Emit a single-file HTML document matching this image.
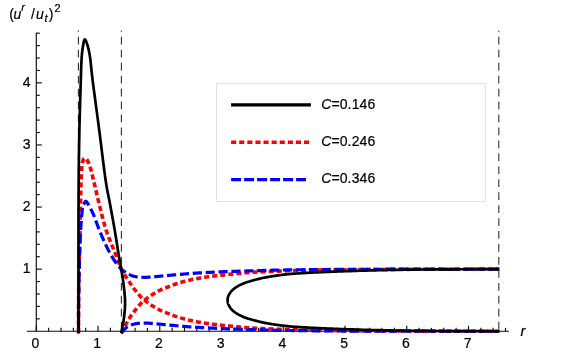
<!DOCTYPE html>
<html><head><meta charset="utf-8"><style>
html,body{margin:0;padding:0;background:#fff;}
body{width:581px;height:364px;overflow:hidden;font-family:"Liberation Sans",sans-serif;}
svg{display:block;will-change:transform;font-family:"Liberation Sans",sans-serif;}
</style></head><body>
<svg width="581" height="364" viewBox="0 0 581 364">
<rect width="581" height="364" fill="#fff"/>
<!-- vertical dashed guide lines -->
<g stroke="#303030" stroke-width="1.1" stroke-dasharray="7.75 5.2" stroke-dashoffset="6.6" fill="none">
<line x1="78.4" y1="30.5" x2="78.4" y2="331"/>
<line x1="121.4" y1="30.5" x2="121.4" y2="331"/>
<line x1="498.8" y1="30.5" x2="498.8" y2="331"/>
</g>
<!-- axes -->
<g stroke="#0c0c0c" stroke-width="1.15" fill="none">
<line x1="26.9" y1="331.25" x2="508.9" y2="331.25"/>
<line x1="36.30" y1="331.25" x2="36.30" y2="32.7"/>
<line x1="36.30" y1="331.25" x2="36.30" y2="325.85"/>
<line x1="48.65" y1="331.25" x2="48.65" y2="327.85"/>
<line x1="61.00" y1="331.25" x2="61.00" y2="327.85"/>
<line x1="73.34" y1="331.25" x2="73.34" y2="327.85"/>
<line x1="85.69" y1="331.25" x2="85.69" y2="327.85"/>
<line x1="98.04" y1="331.25" x2="98.04" y2="325.85"/>
<line x1="110.39" y1="331.25" x2="110.39" y2="327.85"/>
<line x1="122.74" y1="331.25" x2="122.74" y2="327.85"/>
<line x1="135.08" y1="331.25" x2="135.08" y2="327.85"/>
<line x1="147.43" y1="331.25" x2="147.43" y2="327.85"/>
<line x1="159.78" y1="331.25" x2="159.78" y2="325.85"/>
<line x1="172.13" y1="331.25" x2="172.13" y2="327.85"/>
<line x1="184.48" y1="331.25" x2="184.48" y2="327.85"/>
<line x1="196.82" y1="331.25" x2="196.82" y2="327.85"/>
<line x1="209.17" y1="331.25" x2="209.17" y2="327.85"/>
<line x1="221.52" y1="331.25" x2="221.52" y2="325.85"/>
<line x1="233.87" y1="331.25" x2="233.87" y2="327.85"/>
<line x1="246.22" y1="331.25" x2="246.22" y2="327.85"/>
<line x1="258.56" y1="331.25" x2="258.56" y2="327.85"/>
<line x1="270.91" y1="331.25" x2="270.91" y2="327.85"/>
<line x1="283.26" y1="331.25" x2="283.26" y2="325.85"/>
<line x1="295.61" y1="331.25" x2="295.61" y2="327.85"/>
<line x1="307.96" y1="331.25" x2="307.96" y2="327.85"/>
<line x1="320.30" y1="331.25" x2="320.30" y2="327.85"/>
<line x1="332.65" y1="331.25" x2="332.65" y2="327.85"/>
<line x1="345.00" y1="331.25" x2="345.00" y2="325.85"/>
<line x1="357.35" y1="331.25" x2="357.35" y2="327.85"/>
<line x1="369.70" y1="331.25" x2="369.70" y2="327.85"/>
<line x1="382.04" y1="331.25" x2="382.04" y2="327.85"/>
<line x1="394.39" y1="331.25" x2="394.39" y2="327.85"/>
<line x1="406.74" y1="331.25" x2="406.74" y2="325.85"/>
<line x1="419.09" y1="331.25" x2="419.09" y2="327.85"/>
<line x1="431.44" y1="331.25" x2="431.44" y2="327.85"/>
<line x1="443.78" y1="331.25" x2="443.78" y2="327.85"/>
<line x1="456.13" y1="331.25" x2="456.13" y2="327.85"/>
<line x1="468.48" y1="331.25" x2="468.48" y2="325.85"/>
<line x1="480.83" y1="331.25" x2="480.83" y2="327.85"/>
<line x1="493.18" y1="331.25" x2="493.18" y2="327.85"/>
<line x1="505.52" y1="331.25" x2="505.52" y2="327.85"/>
<line x1="36.30" y1="318.83" x2="39.80" y2="318.83"/>
<line x1="36.30" y1="306.41" x2="39.80" y2="306.41"/>
<line x1="36.30" y1="293.99" x2="39.80" y2="293.99"/>
<line x1="36.30" y1="281.57" x2="39.80" y2="281.57"/>
<line x1="36.30" y1="269.15" x2="41.80" y2="269.15"/>
<line x1="36.30" y1="256.73" x2="39.80" y2="256.73"/>
<line x1="36.30" y1="244.31" x2="39.80" y2="244.31"/>
<line x1="36.30" y1="231.89" x2="39.80" y2="231.89"/>
<line x1="36.30" y1="219.47" x2="39.80" y2="219.47"/>
<line x1="36.30" y1="207.05" x2="41.80" y2="207.05"/>
<line x1="36.30" y1="194.63" x2="39.80" y2="194.63"/>
<line x1="36.30" y1="182.21" x2="39.80" y2="182.21"/>
<line x1="36.30" y1="169.79" x2="39.80" y2="169.79"/>
<line x1="36.30" y1="157.37" x2="39.80" y2="157.37"/>
<line x1="36.30" y1="144.95" x2="41.80" y2="144.95"/>
<line x1="36.30" y1="132.53" x2="39.80" y2="132.53"/>
<line x1="36.30" y1="120.11" x2="39.80" y2="120.11"/>
<line x1="36.30" y1="107.69" x2="39.80" y2="107.69"/>
<line x1="36.30" y1="95.27" x2="39.80" y2="95.27"/>
<line x1="36.30" y1="82.85" x2="41.80" y2="82.85"/>
<line x1="36.30" y1="70.43" x2="39.80" y2="70.43"/>
<line x1="36.30" y1="58.01" x2="39.80" y2="58.01"/>
<line x1="36.30" y1="45.59" x2="39.80" y2="45.59"/>
<line x1="36.30" y1="33.17" x2="39.80" y2="33.17"/>
</g>
<g font-size="14" fill="#000" stroke="#000" stroke-width="0.2"><text x="35.40" y="348.4" text-anchor="middle">0</text><text x="97.14" y="348.4" text-anchor="middle">1</text><text x="158.88" y="348.4" text-anchor="middle">2</text><text x="220.62" y="348.4" text-anchor="middle">3</text><text x="282.36" y="348.4" text-anchor="middle">4</text><text x="344.10" y="348.4" text-anchor="middle">5</text><text x="405.84" y="348.4" text-anchor="middle">6</text><text x="467.58" y="348.4" text-anchor="middle">7</text><text x="30.6" y="272.95" text-anchor="end">1</text><text x="30.6" y="210.85" text-anchor="end">2</text><text x="30.6" y="148.75" text-anchor="end">3</text><text x="30.6" y="86.65" text-anchor="end">4</text></g>
<!-- curves -->
<g fill="none" stroke-width="3.2" stroke-linejoin="round">
<g stroke="#ff0000" stroke-width="3.6" stroke-dasharray="5.1 3.0"><path d="M78.50 333.20 L78.51 330.45 L78.51 327.75 L78.51 325.06 L78.51 322.39 L78.52 319.71 L78.52 317.03 L78.52 314.32 L78.53 311.57 L78.54 308.78 L78.55 305.93 L78.57 303.00 L78.60 300.00 L78.63 296.90 L78.67 293.73 L78.70 290.48 L78.74 287.17 L78.79 283.82 L78.84 280.43 L78.89 277.01 L78.94 273.59 L79.00 270.16 L79.07 266.75 L79.13 263.35 L79.20 260.00 L79.28 256.67 L79.36 253.33 L79.45 250.00 L79.54 246.67 L79.64 243.33 L79.74 240.00 L79.84 236.67 L79.94 233.33 L80.03 230.00 L80.13 226.67 L80.22 223.33 L80.30 220.00 L80.38 216.58 L80.45 213.03 L80.52 209.39 L80.59 205.70 L80.65 202.02 L80.71 198.38 L80.77 194.82 L80.84 191.41 L80.90 188.17 L80.96 185.16 L81.03 182.42 L81.10 180.00 L81.17 177.90 L81.24 176.07 L81.31 174.48 L81.38 173.11 L81.45 171.92 L81.52 170.88 L81.60 169.95 L81.67 169.11 L81.75 168.33 L81.83 167.57 L81.91 166.80 L82.00 166.00 L82.09 165.21 L82.18 164.49 L82.27 163.84 L82.37 163.25 L82.46 162.72 L82.56 162.24 L82.66 161.80 L82.77 161.39 L82.87 161.02 L82.98 160.66 L83.09 160.33 L83.20 160.00 L83.31 159.69 L83.43 159.42 L83.54 159.18 L83.66 158.98 L83.78 158.80 L83.91 158.65 L84.03 158.52 L84.16 158.42 L84.29 158.34 L84.42 158.28 L84.56 158.23 L84.70 158.20 L84.84 158.19 L84.99 158.20 L85.14 158.23 L85.30 158.29 L85.46 158.37 L85.62 158.46 L85.78 158.58 L85.94 158.71 L86.11 158.86 L86.27 159.03 L86.44 159.21 L86.60 159.40 L86.76 159.61 L86.92 159.82 L87.08 160.05 L87.24 160.30 L87.41 160.56 L87.57 160.84 L87.73 161.14 L87.90 161.46 L88.07 161.80 L88.24 162.18 L88.42 162.57 L88.60 163.00 L88.79 163.45 L88.97 163.92 L89.16 164.42 L89.36 164.93 L89.56 165.47 L89.76 166.04 L89.96 166.63 L90.16 167.24 L90.37 167.89 L90.58 168.56 L90.79 169.27 L91.00 170.00 L91.20 170.73 L91.39 171.42 L91.57 172.11 L91.74 172.80 L91.92 173.51 L92.11 174.28 L92.30 175.12 L92.52 176.04 L92.76 177.07 L93.04 178.22 L93.35 179.53 L93.70 181.00 L94.10 182.68 L94.54 184.57 L95.03 186.63 L95.54 188.83 L96.08 191.15 L96.64 193.53 L97.21 195.96 L97.78 198.39 L98.35 200.79 L98.92 203.14 L99.47 205.38 L100.00 207.50 L100.51 209.53 L101.02 211.53 L101.52 213.51 L102.02 215.47 L102.52 217.39 L103.01 219.29 L103.51 221.15 L104.01 222.99 L104.52 224.79 L105.04 226.56 L105.56 228.30 L106.10 230.00 L106.65 231.67 L107.22 233.31 L107.81 234.91 L108.40 236.49 L109.00 238.03 L109.61 239.54 L110.21 241.01 L110.80 242.46 L111.38 243.87 L111.94 245.25 L112.48 246.59 L113.00 247.90 L113.50 249.18 L113.99 250.42 L114.47 251.63 L114.94 252.81 L115.39 253.95 L115.84 255.06 L116.27 256.14 L116.69 257.18 L117.09 258.19 L117.47 259.16 L117.85 260.10 L118.20 261.00 L118.52 261.84 L118.79 262.60 L119.02 263.29 L119.23 263.94 L119.42 264.55 L119.61 265.14 L119.80 265.73 L120.02 266.33 L120.26 266.95 L120.55 267.62 L120.89 268.35 L121.30 269.15 L121.78 270.04 L122.33 271.00 L122.94 272.03 L123.60 273.10 L124.28 274.20 L124.98 275.31 L125.69 276.41 L126.38 277.48 L127.05 278.52 L127.69 279.49 L128.28 280.39 L128.80 281.20 L129.27 281.92 L129.71 282.58 L130.12 283.18 L130.50 283.74 L130.86 284.26 L131.20 284.74 L131.52 285.19 L131.83 285.62 L132.13 286.03 L132.43 286.43 L132.71 286.82 L133.00 287.22 L133.27 287.60 L133.51 287.94 L133.73 288.24 L133.93 288.53 L134.12 288.79 L134.31 289.05 L134.50 289.30 L134.70 289.56 L134.91 289.84 L135.15 290.13 L135.41 290.46 L135.70 290.82 L136.03 291.23 L136.39 291.67 L136.77 292.14 L137.17 292.63 L137.59 293.13 L138.01 293.64 L138.44 294.15 L138.87 294.66 L139.30 295.15 L139.72 295.62 L140.12 296.06 L140.50 296.47 L140.86 296.85 L141.20 297.20 L141.53 297.52 L141.84 297.83 L142.15 298.12 L142.46 298.40 L142.78 298.68 L143.10 298.96 L143.44 299.25 L143.80 299.55 L144.19 299.87 L144.60 300.20 L145.04 300.55 L145.49 300.91 L145.95 301.28 L146.43 301.65 L146.92 302.03 L147.43 302.42 L147.95 302.81 L148.49 303.20 L149.04 303.60 L149.61 303.99 L150.20 304.39 L150.80 304.80 L151.43 305.21 L152.11 305.63 L152.81 306.07 L153.53 306.52 L154.27 306.97 L155.03 307.42 L155.78 307.87 L156.52 308.30 L157.25 308.71 L157.97 309.11 L158.65 309.48 L159.30 309.83 L159.91 310.14 L160.49 310.42 L161.04 310.67 L161.58 310.91 L162.10 311.13 L162.61 311.34 L163.13 311.54 L163.64 311.74 L164.18 311.94 L164.72 312.15 L165.30 312.38 L165.90 312.62 L166.53 312.87 L167.17 313.14 L167.82 313.40 L168.49 313.67 L169.17 313.95 L169.86 314.22 L170.56 314.50 L171.27 314.78 L171.99 315.05 L172.72 315.32 L173.45 315.59 L174.20 315.85 L174.96 316.11 L175.72 316.36 L176.50 316.62 L177.28 316.87 L178.08 317.13 L178.88 317.38 L179.70 317.63 L180.52 317.87 L181.35 318.12 L182.19 318.36 L183.04 318.60 L183.90 318.83 L184.77 319.06 L185.64 319.29 L186.53 319.52 L187.42 319.75 L188.33 319.97 L189.24 320.19 L190.16 320.41 L191.09 320.62 L192.03 320.83 L192.98 321.04 L193.93 321.24 L194.90 321.44 L195.88 321.63 L196.88 321.82 L197.90 322.00 L198.93 322.19 L199.97 322.36 L201.02 322.54 L202.07 322.71 L203.11 322.87 L204.15 323.03 L205.18 323.19 L206.20 323.34 L207.20 323.49 L208.15 323.63 L209.03 323.75 L209.86 323.87 L210.67 323.98 L211.47 324.08 L212.29 324.19 L213.14 324.29 L214.05 324.40 L215.04 324.51 L216.13 324.63 L217.35 324.77 L218.70 324.92 L220.23 325.08 L221.92 325.26 L223.76 325.45 L225.70 325.66 L227.72 325.86 L229.79 326.08 L231.89 326.29 L233.97 326.49 L236.01 326.69 L237.98 326.88 L239.85 327.06 L241.60 327.21 L243.19 327.35 L244.63 327.48 L245.97 327.60 L247.24 327.71 L248.46 327.81 L249.68 327.90 L250.93 327.99 L252.24 328.08 L253.65 328.17 L255.19 328.26 L256.89 328.36 L258.80 328.46 L260.88 328.56 L263.09 328.67 L265.41 328.78 L267.84 328.89 L270.36 329.00 L272.98 329.10 L275.67 329.21 L278.43 329.32 L281.25 329.42 L284.13 329.52 L287.05 329.61 L290.00 329.70 L292.99 329.78 L296.04 329.86 L299.15 329.94 L302.31 330.01 L305.54 330.08 L308.82 330.15 L312.18 330.22 L315.60 330.28 L319.09 330.34 L322.65 330.40 L326.29 330.45 L330.00 330.50 L333.82 330.55 L337.75 330.60 L341.80 330.65 L345.93 330.69 L350.12 330.72 L354.38 330.76 L358.66 330.79 L362.96 330.83 L367.27 330.86 L371.55 330.89 L375.80 330.91 L380.00 330.94 L384.11 330.96 L388.11 330.99 L392.05 331.00 L395.95 331.02 L399.86 331.04 L403.79 331.05 L407.80 331.07 L411.90 331.08 L416.14 331.09 L420.55 331.10 L425.16 331.11 L430.00 331.13 L435.10 331.14 L440.43 331.15 L445.97 331.16 L451.67 331.17 L457.51 331.18 L463.44 331.19 L469.45 331.20 L475.49 331.21 L481.52 331.22 L487.53 331.23 L493.46 331.24 L499.30 331.25"/><path d="M121.20 333.20 L121.84 332.01 L122.51 330.77 L123.18 329.51 L123.86 328.24 L124.54 326.96 L125.21 325.70 L125.87 324.47 L126.52 323.28 L127.14 322.14 L127.73 321.07 L128.29 320.09 L128.80 319.20 L129.27 318.41 L129.71 317.71 L130.12 317.08 L130.51 316.51 L130.87 316.00 L131.21 315.54 L131.53 315.11 L131.84 314.71 L132.14 314.33 L132.43 313.95 L132.71 313.57 L133.00 313.18 L133.27 312.80 L133.51 312.46 L133.73 312.16 L133.93 311.87 L134.12 311.61 L134.31 311.35 L134.50 311.10 L134.70 310.84 L134.91 310.56 L135.15 310.27 L135.41 309.94 L135.70 309.58 L136.03 309.17 L136.39 308.73 L136.77 308.26 L137.17 307.77 L137.59 307.27 L138.01 306.76 L138.44 306.25 L138.87 305.74 L139.30 305.25 L139.72 304.78 L140.12 304.34 L140.50 303.93 L140.86 303.55 L141.20 303.20 L141.53 302.88 L141.84 302.57 L142.15 302.28 L142.46 302.00 L142.78 301.72 L143.10 301.44 L143.44 301.15 L143.80 300.85 L144.19 300.53 L144.60 300.20 L145.04 299.85 L145.49 299.49 L145.95 299.12 L146.43 298.75 L146.92 298.37 L147.43 297.98 L147.95 297.59 L148.49 297.20 L149.04 296.80 L149.61 296.41 L150.20 296.01 L150.80 295.60 L151.43 295.19 L152.11 294.77 L152.81 294.33 L153.53 293.88 L154.27 293.43 L155.03 292.98 L155.78 292.53 L156.52 292.10 L157.25 291.69 L157.97 291.29 L158.65 290.92 L159.30 290.57 L159.91 290.26 L160.49 289.98 L161.04 289.73 L161.58 289.49 L162.10 289.27 L162.61 289.06 L163.13 288.86 L163.64 288.66 L164.18 288.46 L164.72 288.25 L165.30 288.02 L165.90 287.78 L166.53 287.53 L167.17 287.26 L167.82 287.00 L168.49 286.73 L169.17 286.45 L169.86 286.18 L170.56 285.90 L171.27 285.62 L171.99 285.35 L172.72 285.08 L173.45 284.81 L174.20 284.55 L174.96 284.29 L175.72 284.04 L176.50 283.78 L177.28 283.52 L178.08 283.27 L178.88 283.02 L179.70 282.77 L180.52 282.53 L181.35 282.28 L182.19 282.04 L183.04 281.80 L183.90 281.57 L184.77 281.34 L185.64 281.11 L186.53 280.88 L187.42 280.65 L188.33 280.43 L189.24 280.21 L190.16 279.99 L191.09 279.78 L192.03 279.57 L192.98 279.36 L193.93 279.16 L194.90 278.96 L195.88 278.77 L196.88 278.58 L197.90 278.40 L198.93 278.21 L199.97 278.04 L201.02 277.86 L202.07 277.69 L203.11 277.53 L204.15 277.37 L205.18 277.21 L206.20 277.06 L207.20 276.91 L208.15 276.77 L209.03 276.65 L209.86 276.53 L210.67 276.42 L211.47 276.32 L212.29 276.21 L213.14 276.11 L214.05 276.00 L215.04 275.89 L216.13 275.77 L217.35 275.63 L218.70 275.48 L220.23 275.32 L221.92 275.14 L223.76 274.95 L225.70 274.74 L227.72 274.54 L229.79 274.32 L231.89 274.11 L233.97 273.91 L236.01 273.71 L237.98 273.52 L239.85 273.34 L241.60 273.19 L243.19 273.05 L244.63 272.92 L245.97 272.80 L247.24 272.69 L248.46 272.59 L249.68 272.50 L250.93 272.41 L252.24 272.32 L253.65 272.23 L255.19 272.14 L256.89 272.04 L258.80 271.94 L260.88 271.84 L263.09 271.73 L265.41 271.62 L267.84 271.51 L270.36 271.40 L272.98 271.30 L275.67 271.19 L278.43 271.08 L281.25 270.98 L284.13 270.88 L287.05 270.79 L290.00 270.70 L292.99 270.62 L296.04 270.54 L299.15 270.46 L302.31 270.39 L305.54 270.32 L308.82 270.25 L312.18 270.18 L315.60 270.12 L319.09 270.06 L322.65 270.00 L326.29 269.95 L330.00 269.90 L333.82 269.85 L337.75 269.80 L341.80 269.75 L345.93 269.71 L350.12 269.68 L354.38 269.64 L358.66 269.61 L362.96 269.57 L367.27 269.54 L371.55 269.51 L375.80 269.49 L380.00 269.46 L384.11 269.44 L388.11 269.41 L392.05 269.40 L395.95 269.38 L399.86 269.36 L403.79 269.35 L407.80 269.33 L411.90 269.32 L416.14 269.31 L420.55 269.30 L425.16 269.29 L430.00 269.27 L435.10 269.26 L440.43 269.25 L445.97 269.24 L451.67 269.23 L457.51 269.22 L463.44 269.21 L469.45 269.20 L475.49 269.19 L481.52 269.18 L487.53 269.17 L493.46 269.16 L499.30 269.15"/></g>
<g stroke="#0000ff" stroke-width="3.2" stroke-dasharray="9.2 3.7"><path d="M78.50 333.20 L78.51 330.45 L78.53 327.75 L78.54 325.06 L78.54 322.39 L78.55 319.71 L78.56 317.03 L78.57 314.32 L78.59 311.57 L78.61 308.78 L78.63 305.93 L78.66 303.00 L78.70 300.00 L78.74 296.87 L78.79 293.61 L78.85 290.24 L78.91 286.80 L78.97 283.31 L79.04 279.80 L79.11 276.30 L79.18 272.84 L79.26 269.46 L79.34 266.17 L79.42 263.00 L79.50 260.00 L79.58 257.12 L79.67 254.32 L79.76 251.59 L79.85 248.93 L79.95 246.34 L80.04 243.81 L80.14 241.36 L80.25 238.96 L80.36 236.63 L80.47 234.36 L80.58 232.15 L80.70 230.00 L80.82 227.89 L80.95 225.80 L81.09 223.75 L81.23 221.76 L81.37 219.82 L81.51 217.96 L81.66 216.19 L81.81 214.51 L81.96 212.94 L82.11 211.49 L82.25 210.18 L82.40 209.00 L82.55 207.99 L82.70 207.16 L82.85 206.48 L83.00 205.93 L83.15 205.49 L83.31 205.13 L83.46 204.84 L83.61 204.59 L83.76 204.37 L83.91 204.14 L84.06 203.89 L84.20 203.60 L84.34 203.29 L84.48 202.99 L84.61 202.71 L84.75 202.46 L84.88 202.22 L85.01 202.01 L85.14 201.82 L85.27 201.66 L85.40 201.52 L85.54 201.42 L85.67 201.34 L85.80 201.30 L85.93 201.30 L86.06 201.33 L86.19 201.40 L86.31 201.50 L86.44 201.63 L86.57 201.79 L86.70 201.96 L86.83 202.15 L86.96 202.35 L87.10 202.57 L87.25 202.78 L87.40 203.00 L87.55 203.21 L87.69 203.41 L87.83 203.61 L87.97 203.82 L88.12 204.04 L88.27 204.28 L88.43 204.54 L88.60 204.84 L88.79 205.17 L89.01 205.56 L89.24 206.00 L89.50 206.50 L89.79 207.06 L90.10 207.66 L90.44 208.30 L90.79 208.99 L91.16 209.72 L91.55 210.48 L91.95 211.28 L92.35 212.12 L92.76 212.99 L93.18 213.90 L93.59 214.83 L94.00 215.80 L94.41 216.80 L94.81 217.84 L95.21 218.92 L95.61 220.03 L96.02 221.18 L96.44 222.36 L96.87 223.57 L97.31 224.81 L97.77 226.08 L98.26 227.36 L98.76 228.67 L99.30 230.00 L99.87 231.38 L100.47 232.82 L101.09 234.31 L101.74 235.84 L102.40 237.40 L103.08 238.97 L103.77 240.54 L104.46 242.10 L105.16 243.63 L105.85 245.11 L106.53 246.54 L107.20 247.90 L107.87 249.21 L108.55 250.51 L109.24 251.79 L109.93 253.04 L110.62 254.27 L111.31 255.46 L112.00 256.62 L112.67 257.73 L113.33 258.80 L113.98 259.82 L114.60 260.79 L115.20 261.70 L115.78 262.55 L116.34 263.34 L116.89 264.07 L117.42 264.75 L117.94 265.39 L118.45 265.99 L118.95 266.55 L119.43 267.08 L119.91 267.59 L120.38 268.07 L120.84 268.54 L121.30 269.00 L121.74 269.43 L122.17 269.82 L122.58 270.18 L122.97 270.50 L123.36 270.80 L123.74 271.08 L124.12 271.34 L124.50 271.59 L124.89 271.84 L125.28 272.08 L125.68 272.34 L126.10 272.60 L126.53 272.87 L126.96 273.14 L127.41 273.41 L127.85 273.67 L128.30 273.93 L128.76 274.19 L129.21 274.43 L129.67 274.67 L130.13 274.90 L130.59 275.11 L131.04 275.31 L131.50 275.50 L131.95 275.67 L132.39 275.83 L132.84 275.98 L133.27 276.11 L133.71 276.24 L134.16 276.36 L134.60 276.46 L135.06 276.56 L135.52 276.66 L136.00 276.74 L136.49 276.82 L137.00 276.90 L137.52 276.97 L138.06 277.03 L138.60 277.09 L139.15 277.13 L139.71 277.17 L140.29 277.21 L140.87 277.23 L141.46 277.26 L142.06 277.27 L142.66 277.29 L143.28 277.29 L143.90 277.30 L144.52 277.30 L145.14 277.30 L145.77 277.29 L146.40 277.28 L147.03 277.27 L147.68 277.24 L148.34 277.22 L149.03 277.19 L149.73 277.15 L150.46 277.10 L151.21 277.06 L152.00 277.00 L152.80 276.94 L153.61 276.87 L154.42 276.79 L155.26 276.71 L156.11 276.62 L156.99 276.53 L157.90 276.43 L158.86 276.33 L159.86 276.23 L160.91 276.12 L162.02 276.01 L163.20 275.90 L164.47 275.78 L165.84 275.66 L167.30 275.52 L168.82 275.39 L170.39 275.24 L171.99 275.10 L173.59 274.96 L175.19 274.81 L176.76 274.68 L178.28 274.54 L179.73 274.42 L181.10 274.30 L182.34 274.19 L183.46 274.09 L184.47 274.00 L185.42 273.91 L186.35 273.83 L187.27 273.74 L188.24 273.66 L189.29 273.58 L190.44 273.49 L191.74 273.40 L193.21 273.30 L194.90 273.20 L196.79 273.09 L198.85 272.97 L201.06 272.84 L203.39 272.71 L205.83 272.58 L208.36 272.45 L210.97 272.32 L213.62 272.19 L216.31 272.06 L219.02 271.93 L221.72 271.81 L224.40 271.70 L227.11 271.59 L229.89 271.49 L232.73 271.39 L235.62 271.29 L238.55 271.19 L241.49 271.10 L244.45 271.01 L247.39 270.92 L250.31 270.84 L253.20 270.76 L256.03 270.68 L258.80 270.60 L261.45 270.53 L263.97 270.46 L266.38 270.39 L268.74 270.33 L271.07 270.27 L273.42 270.21 L275.83 270.16 L278.33 270.10 L280.95 270.05 L283.75 270.00 L286.75 269.95 L290.00 269.90 L293.48 269.85 L297.13 269.80 L300.94 269.75 L304.90 269.71 L308.99 269.66 L313.20 269.62 L317.51 269.58 L321.90 269.54 L326.36 269.50 L330.87 269.46 L335.42 269.43 L340.00 269.40 L344.52 269.37 L348.97 269.35 L353.38 269.33 L357.80 269.31 L362.30 269.29 L366.92 269.27 L371.71 269.26 L376.72 269.24 L382.00 269.23 L387.61 269.22 L393.59 269.21 L400.00 269.20 L406.90 269.19 L414.28 269.18 L422.06 269.18 L430.19 269.17 L438.59 269.17 L447.19 269.17 L455.93 269.16 L464.74 269.16 L473.55 269.16 L482.30 269.16 L490.90 269.15 L499.30 269.15"/><path d="M121.20 333.20 L121.61 332.74 L122.01 332.27 L122.41 331.79 L122.81 331.31 L123.22 330.82 L123.62 330.34 L124.02 329.87 L124.43 329.41 L124.84 328.97 L125.25 328.56 L125.67 328.16 L126.10 327.80 L126.53 327.47 L126.97 327.15 L127.41 326.86 L127.86 326.59 L128.31 326.34 L128.76 326.10 L129.22 325.88 L129.67 325.66 L130.13 325.46 L130.59 325.27 L131.04 325.08 L131.50 324.90 L131.95 324.73 L132.39 324.57 L132.84 324.42 L133.27 324.29 L133.71 324.16 L134.16 324.04 L134.60 323.94 L135.06 323.84 L135.52 323.74 L136.00 323.66 L136.49 323.58 L137.00 323.50 L137.52 323.43 L138.06 323.37 L138.60 323.31 L139.15 323.27 L139.71 323.23 L140.29 323.19 L140.87 323.17 L141.46 323.14 L142.06 323.13 L142.66 323.11 L143.28 323.11 L143.90 323.10 L144.52 323.10 L145.14 323.10 L145.77 323.11 L146.40 323.12 L147.03 323.13 L147.68 323.16 L148.34 323.18 L149.03 323.21 L149.73 323.25 L150.46 323.30 L151.21 323.34 L152.00 323.40 L152.80 323.46 L153.61 323.53 L154.42 323.61 L155.26 323.69 L156.11 323.78 L156.99 323.87 L157.90 323.97 L158.86 324.07 L159.86 324.17 L160.91 324.28 L162.02 324.39 L163.20 324.50 L164.47 324.62 L165.84 324.74 L167.30 324.88 L168.82 325.01 L170.39 325.16 L171.99 325.30 L173.59 325.44 L175.19 325.59 L176.76 325.72 L178.28 325.86 L179.73 325.98 L181.10 326.10 L182.34 326.21 L183.46 326.31 L184.47 326.40 L185.42 326.49 L186.35 326.57 L187.27 326.66 L188.24 326.74 L189.29 326.82 L190.44 326.91 L191.74 327.00 L193.21 327.10 L194.90 327.20 L196.79 327.31 L198.85 327.43 L201.06 327.56 L203.39 327.69 L205.83 327.82 L208.36 327.95 L210.97 328.08 L213.62 328.21 L216.31 328.34 L219.02 328.47 L221.72 328.59 L224.40 328.70 L227.11 328.81 L229.89 328.91 L232.73 329.01 L235.62 329.11 L238.55 329.21 L241.49 329.30 L244.45 329.39 L247.39 329.48 L250.31 329.56 L253.20 329.64 L256.03 329.72 L258.80 329.80 L261.45 329.87 L263.97 329.94 L266.38 330.01 L268.74 330.07 L271.07 330.13 L273.42 330.19 L275.83 330.24 L278.33 330.30 L280.95 330.35 L283.75 330.40 L286.75 330.45 L290.00 330.50 L293.48 330.55 L297.13 330.60 L300.94 330.65 L304.90 330.69 L308.99 330.74 L313.20 330.78 L317.51 330.82 L321.90 330.86 L326.36 330.90 L330.87 330.94 L335.42 330.97 L340.00 331.00 L344.52 331.03 L348.97 331.05 L353.38 331.07 L357.80 331.09 L362.30 331.11 L366.92 331.13 L371.71 331.14 L376.72 331.16 L382.00 331.17 L387.61 331.18 L393.59 331.19 L400.00 331.20 L406.90 331.21 L414.28 331.22 L422.06 331.22 L430.19 331.23 L438.59 331.23 L447.19 331.23 L455.93 331.24 L464.74 331.24 L473.55 331.24 L482.30 331.24 L490.90 331.25 L499.30 331.25"/></g>
<g stroke="#000" stroke-width="2.7"><path d="M78.60 333.20 L78.59 330.55 L78.58 328.09 L78.57 325.76 L78.56 323.50 L78.55 321.23 L78.54 318.90 L78.53 316.44 L78.53 313.79 L78.52 310.89 L78.51 307.66 L78.50 304.06 L78.50 300.00 L78.50 295.39 L78.49 290.23 L78.49 284.62 L78.49 278.65 L78.48 272.43 L78.48 266.05 L78.48 259.61 L78.48 253.21 L78.48 246.96 L78.49 240.94 L78.49 235.25 L78.50 230.00 L78.51 225.13 L78.52 220.51 L78.52 216.09 L78.53 211.85 L78.54 207.75 L78.56 203.75 L78.57 199.82 L78.59 195.93 L78.61 192.03 L78.64 188.10 L78.67 184.10 L78.70 180.00 L78.74 175.83 L78.78 171.67 L78.82 167.50 L78.87 163.33 L78.92 159.17 L78.98 155.00 L79.03 150.83 L79.10 146.67 L79.16 142.50 L79.24 138.33 L79.32 134.17 L79.40 130.00 L79.49 125.75 L79.60 121.35 L79.71 116.87 L79.83 112.33 L79.96 107.80 L80.09 103.31 L80.22 98.92 L80.34 94.67 L80.47 90.60 L80.59 86.77 L80.70 83.22 L80.80 80.00 L80.89 77.10 L80.97 74.48 L81.05 72.09 L81.11 69.93 L81.18 67.95 L81.24 66.12 L81.31 64.44 L81.37 62.85 L81.44 61.34 L81.52 59.88 L81.61 58.45 L81.70 57.00 L81.80 55.59 L81.91 54.29 L82.03 53.08 L82.15 51.95 L82.28 50.90 L82.41 49.91 L82.54 48.99 L82.67 48.12 L82.80 47.29 L82.94 46.50 L83.07 45.74 L83.20 45.00 L83.33 44.27 L83.45 43.57 L83.57 42.89 L83.69 42.24 L83.81 41.65 L83.93 41.10 L84.06 40.62 L84.19 40.20 L84.33 39.86 L84.47 39.61 L84.63 39.45 L84.80 39.40 L84.98 39.45 L85.18 39.61 L85.38 39.86 L85.59 40.20 L85.81 40.62 L86.04 41.10 L86.27 41.65 L86.50 42.24 L86.73 42.89 L86.96 43.57 L87.18 44.27 L87.40 45.00 L87.62 45.74 L87.83 46.50 L88.05 47.29 L88.27 48.12 L88.48 48.99 L88.70 49.91 L88.92 50.90 L89.13 51.95 L89.35 53.08 L89.57 54.29 L89.78 55.59 L90.00 57.00 L90.20 58.45 L90.39 59.88 L90.56 61.34 L90.72 62.85 L90.88 64.44 L91.05 66.12 L91.23 67.95 L91.44 69.93 L91.67 72.09 L91.94 74.48 L92.24 77.10 L92.60 80.00 L93.01 83.22 L93.47 86.77 L93.97 90.60 L94.51 94.67 L95.08 98.92 L95.66 103.31 L96.26 107.80 L96.87 112.33 L97.47 116.87 L98.07 121.35 L98.64 125.75 L99.20 130.00 L99.75 134.25 L100.30 138.62 L100.86 143.09 L101.41 147.59 L101.97 152.10 L102.53 156.56 L103.07 160.94 L103.61 165.19 L104.13 169.26 L104.64 173.11 L105.13 176.71 L105.60 180.00 L106.05 182.96 L106.47 185.61 L106.88 188.01 L107.27 190.19 L107.65 192.19 L108.02 194.06 L108.38 195.85 L108.74 197.59 L109.10 199.34 L109.46 201.12 L109.83 203.00 L110.20 205.00 L110.58 207.08 L110.96 209.17 L111.34 211.25 L111.73 213.33 L112.11 215.42 L112.49 217.50 L112.87 219.58 L113.24 221.67 L113.61 223.75 L113.98 225.83 L114.34 227.92 L114.70 230.00 L115.06 232.12 L115.41 234.29 L115.77 236.51 L116.13 238.74 L116.48 240.97 L116.83 243.19 L117.16 245.36 L117.50 247.48 L117.82 249.52 L118.13 251.47 L118.42 253.30 L118.70 255.00 L118.96 256.56 L119.21 258.00 L119.45 259.34 L119.67 260.59 L119.88 261.77 L120.09 262.88 L120.28 263.94 L120.47 264.96 L120.66 265.97 L120.84 266.97 L121.02 267.97 L121.20 269.00 L121.37 269.99 L121.54 270.91 L121.69 271.76 L121.84 272.57 L121.99 273.37 L122.13 274.16 L122.27 274.97 L122.41 275.81 L122.55 276.72 L122.70 277.71 L122.85 278.80 L123.00 280.00 L123.17 281.34 L123.35 282.79 L123.55 284.35 L123.76 285.98 L123.96 287.67 L124.16 289.41 L124.36 291.16 L124.53 292.91 L124.69 294.64 L124.83 296.33 L124.93 297.95 L125.00 299.50 L125.04 300.98 L125.05 302.42 L125.05 303.82 L125.02 305.20 L124.97 306.55 L124.91 307.89 L124.82 309.23 L124.73 310.56 L124.61 311.90 L124.49 313.24 L124.35 314.61 L124.20 316.00 L124.03 317.41 L123.84 318.83 L123.62 320.25 L123.39 321.68 L123.14 323.12 L122.88 324.56 L122.61 326.00 L122.34 327.44 L122.07 328.88 L121.81 330.33 L121.55 331.76 L121.30 333.20"/><path d="M499.30 331.25 L495.18 331.24 L491.03 331.23 L486.87 331.22 L482.71 331.21 L478.54 331.20 L474.38 331.19 L470.24 331.18 L466.11 331.17 L462.02 331.16 L457.97 331.14 L453.96 331.12 L450.00 331.10 L446.04 331.08 L442.02 331.05 L437.98 331.02 L433.94 330.99 L429.93 330.96 L425.98 330.92 L422.11 330.89 L418.36 330.85 L414.74 330.81 L411.29 330.78 L408.04 330.74 L405.00 330.70 L402.25 330.66 L399.79 330.63 L397.58 330.59 L395.56 330.56 L393.67 330.52 L391.88 330.49 L390.11 330.45 L388.33 330.41 L386.48 330.36 L384.51 330.31 L382.37 330.26 L380.00 330.20 L377.40 330.13 L374.63 330.06 L371.72 329.99 L368.70 329.90 L365.62 329.82 L362.50 329.73 L359.38 329.64 L356.30 329.55 L353.28 329.46 L350.37 329.37 L347.60 329.28 L345.00 329.20 L342.55 329.12 L340.20 329.03 L337.93 328.95 L335.74 328.87 L333.63 328.79 L331.57 328.71 L329.56 328.62 L327.60 328.54 L325.67 328.46 L323.77 328.37 L321.88 328.29 L320.00 328.20 L318.12 328.11 L316.26 328.02 L314.42 327.93 L312.60 327.83 L310.82 327.73 L309.07 327.64 L307.38 327.54 L305.74 327.45 L304.17 327.36 L302.67 327.27 L301.24 327.18 L299.90 327.10 L298.67 327.03 L297.57 326.96 L296.58 326.90 L295.66 326.84 L294.81 326.79 L294.01 326.74 L293.22 326.68 L292.44 326.62 L291.63 326.56 L290.79 326.48 L289.89 326.40 L288.90 326.30 L287.85 326.19 L286.76 326.08 L285.65 325.96 L284.51 325.83 L283.35 325.70 L282.18 325.56 L280.99 325.41 L279.80 325.26 L278.62 325.10 L277.43 324.94 L276.26 324.77 L275.10 324.60 L273.95 324.42 L272.80 324.24 L271.65 324.06 L270.50 323.87 L269.35 323.68 L268.20 323.47 L267.05 323.27 L265.90 323.05 L264.75 322.83 L263.60 322.60 L262.45 322.35 L261.30 322.10 L260.13 321.83 L258.92 321.54 L257.69 321.24 L256.44 320.92 L255.20 320.59 L253.96 320.26 L252.75 319.93 L251.58 319.60 L250.46 319.28 L249.39 318.97 L248.40 318.68 L247.50 318.40 L246.68 318.14 L245.93 317.88 L245.24 317.64 L244.60 317.40 L244.01 317.17 L243.47 316.94 L242.96 316.72 L242.48 316.51 L242.02 316.30 L241.57 316.10 L241.14 315.90 L240.70 315.70 L240.28 315.51 L239.90 315.33 L239.55 315.16 L239.22 314.99 L238.91 314.83 L238.62 314.67 L238.35 314.51 L238.08 314.36 L237.82 314.20 L237.55 314.04 L237.28 313.87 L237.00 313.70 L236.71 313.52 L236.43 313.35 L236.15 313.17 L235.87 312.99 L235.59 312.80 L235.32 312.62 L235.05 312.43 L234.79 312.25 L234.53 312.06 L234.28 311.87 L234.04 311.69 L233.80 311.50 L233.57 311.31 L233.35 311.12 L233.13 310.94 L232.92 310.75 L232.71 310.56 L232.51 310.37 L232.32 310.18 L232.13 309.99 L231.94 309.79 L231.76 309.60 L231.58 309.40 L231.40 309.20 L231.23 309.00 L231.06 308.80 L230.90 308.60 L230.74 308.40 L230.59 308.20 L230.44 308.00 L230.30 307.79 L230.16 307.59 L230.01 307.37 L229.88 307.15 L229.74 306.93 L229.60 306.70 L229.46 306.46 L229.32 306.22 L229.18 305.97 L229.04 305.72 L228.90 305.47 L228.77 305.21 L228.64 304.94 L228.51 304.68 L228.40 304.41 L228.29 304.14 L228.19 303.87 L228.10 303.60 L228.02 303.33 L227.95 303.05 L227.88 302.77 L227.82 302.49 L227.77 302.20 L227.72 301.92 L227.69 301.63 L227.66 301.34 L227.63 301.06 L227.61 300.77 L227.60 300.48 L227.60 300.20 L227.60 299.92 L227.61 299.63 L227.63 299.34 L227.66 299.06 L227.69 298.77 L227.72 298.48 L227.77 298.20 L227.82 297.91 L227.88 297.63 L227.95 297.35 L228.02 297.07 L228.10 296.80 L228.19 296.53 L228.29 296.26 L228.40 295.99 L228.51 295.72 L228.64 295.46 L228.77 295.19 L228.90 294.93 L229.04 294.68 L229.18 294.43 L229.32 294.18 L229.46 293.94 L229.60 293.70 L229.74 293.47 L229.88 293.25 L230.01 293.03 L230.16 292.81 L230.30 292.61 L230.44 292.40 L230.59 292.20 L230.74 292.00 L230.90 291.80 L231.06 291.60 L231.23 291.40 L231.40 291.20 L231.58 291.00 L231.76 290.80 L231.94 290.61 L232.13 290.41 L232.32 290.22 L232.51 290.03 L232.71 289.84 L232.92 289.65 L233.13 289.46 L233.35 289.28 L233.57 289.09 L233.80 288.90 L234.04 288.71 L234.28 288.53 L234.53 288.34 L234.79 288.15 L235.05 287.97 L235.32 287.78 L235.59 287.60 L235.87 287.41 L236.15 287.23 L236.43 287.05 L236.71 286.88 L237.00 286.70 L237.28 286.53 L237.55 286.36 L237.82 286.20 L238.08 286.04 L238.35 285.89 L238.62 285.73 L238.91 285.57 L239.22 285.41 L239.55 285.24 L239.90 285.07 L240.28 284.89 L240.70 284.70 L241.14 284.50 L241.57 284.30 L242.02 284.10 L242.48 283.89 L242.96 283.68 L243.47 283.46 L244.01 283.23 L244.60 283.00 L245.24 282.76 L245.93 282.52 L246.68 282.26 L247.50 282.00 L248.40 281.72 L249.39 281.43 L250.46 281.12 L251.58 280.80 L252.75 280.47 L253.96 280.14 L255.20 279.81 L256.44 279.48 L257.69 279.16 L258.92 278.86 L260.13 278.57 L261.30 278.30 L262.45 278.05 L263.60 277.80 L264.75 277.57 L265.90 277.35 L267.05 277.13 L268.20 276.93 L269.35 276.72 L270.50 276.53 L271.65 276.34 L272.80 276.16 L273.95 275.98 L275.10 275.80 L276.26 275.63 L277.43 275.46 L278.62 275.30 L279.80 275.14 L280.99 274.99 L282.18 274.84 L283.35 274.70 L284.51 274.57 L285.65 274.44 L286.76 274.32 L287.85 274.21 L288.90 274.10 L289.89 274.00 L290.79 273.92 L291.63 273.84 L292.44 273.78 L293.22 273.72 L294.01 273.66 L294.81 273.61 L295.66 273.56 L296.58 273.50 L297.57 273.44 L298.67 273.37 L299.90 273.30 L301.24 273.22 L302.67 273.13 L304.17 273.04 L305.74 272.95 L307.38 272.86 L309.07 272.76 L310.82 272.67 L312.60 272.57 L314.42 272.48 L316.26 272.38 L318.12 272.29 L320.00 272.20 L321.88 272.11 L323.77 272.03 L325.67 271.94 L327.60 271.86 L329.56 271.78 L331.57 271.69 L333.63 271.61 L335.74 271.53 L337.93 271.45 L340.20 271.37 L342.55 271.28 L345.00 271.20 L347.60 271.12 L350.37 271.03 L353.28 270.94 L356.30 270.85 L359.38 270.76 L362.50 270.67 L365.62 270.58 L368.70 270.50 L371.72 270.41 L374.63 270.34 L377.40 270.27 L380.00 270.20 L382.37 270.14 L384.51 270.09 L386.48 270.04 L388.33 269.99 L390.11 269.95 L391.88 269.91 L393.67 269.88 L395.56 269.84 L397.58 269.81 L399.79 269.77 L402.25 269.74 L405.00 269.70 L408.04 269.66 L411.29 269.62 L414.74 269.59 L418.36 269.55 L422.11 269.51 L425.98 269.48 L429.93 269.44 L433.94 269.41 L437.98 269.38 L442.02 269.35 L446.04 269.32 L450.00 269.30 L453.96 269.28 L457.97 269.26 L462.02 269.24 L466.11 269.23 L470.24 269.22 L474.38 269.21 L478.54 269.20 L482.71 269.19 L486.87 269.18 L491.03 269.17 L495.18 269.16 L499.30 269.15"/></g>
</g>
<!-- axis labels -->
<text x="520.6" y="335.9" font-size="15" font-style="italic" fill="#000" stroke="#000" stroke-width="0.2">r</text>
<g fill="#000" font-size="14" stroke="#000" stroke-width="0.2">
<text x="9.2" y="18.9">(</text>
<text x="13.5" y="18.9" font-style="italic">u</text>
<text x="21.2" y="10.7" font-style="italic" font-size="11">r</text>
<text x="31.0" y="18.9">/</text>
<text x="36.1" y="18.9" font-style="italic">u</text>
<text x="44.6" y="21.9" font-style="italic" font-size="11">t</text>
<text x="48.8" y="18.9">)</text>
<text x="54.6" y="11.7" font-size="11">2</text>
</g>
<!-- legend -->
<rect x="216.5" y="83.5" width="269" height="118" fill="#fff" stroke="#e2e2e2" stroke-width="1"/>
<g fill="none" stroke-width="3.4">
<line x1="231.1" y1="104.9" x2="310.9" y2="104.9" stroke="#000"/>
<line x1="231.1" y1="142.3" x2="309.4" y2="142.3" stroke="#ff0000" stroke-dasharray="5.1 3.0"/>
<line x1="231.1" y1="179.6" x2="306" y2="179.6" stroke="#0000ff" stroke-dasharray="10 3"/>
</g>
<g font-size="14" fill="#000" stroke="#000" stroke-width="0.2" letter-spacing="0.12">
<text x="321.2" y="108.6"><tspan font-style="italic">C</tspan>=0.146</text>
<text x="321.2" y="145.9"><tspan font-style="italic">C</tspan>=0.246</text>
<text x="321.2" y="183.2"><tspan font-style="italic">C</tspan>=0.346</text>
</g>
</svg>
</body></html>
